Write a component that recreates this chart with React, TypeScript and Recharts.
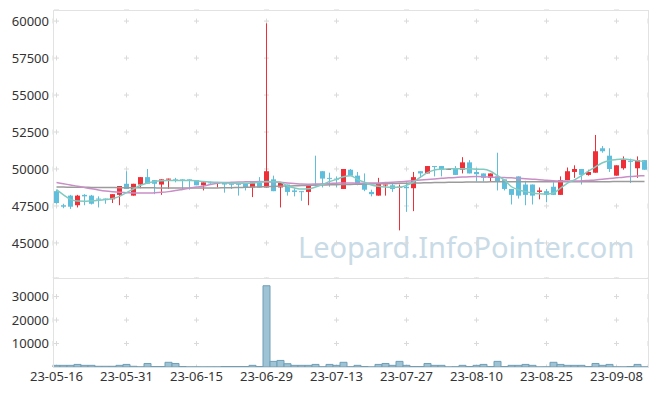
import { ComposedChart, Bar, Line, XAxis, YAxis, CartesianGrid } from "recharts";

const DATES = [
  "23-05-16", "23-05-17", "23-05-18", "23-05-19", "23-05-22", "23-05-23", "23-05-24", "23-05-25", "23-05-26", "23-05-30",
  "23-05-31", "23-06-01", "23-06-02", "23-06-05", "23-06-07", "23-06-08", "23-06-09", "23-06-12", "23-06-13", "23-06-14",
  "23-06-15", "23-06-16", "23-06-19", "23-06-20", "23-06-21", "23-06-22", "23-06-23", "23-06-26", "23-06-27", "23-06-28",
  "23-06-29", "23-06-30", "23-07-03", "23-07-04", "23-07-05", "23-07-06", "23-07-07", "23-07-10", "23-07-11", "23-07-12",
  "23-07-13", "23-07-14", "23-07-17", "23-07-18", "23-07-19", "23-07-20", "23-07-21", "23-07-24", "23-07-25", "23-07-26",
  "23-07-27", "23-07-28", "23-07-31", "23-08-01", "23-08-02", "23-08-03", "23-08-04", "23-08-07", "23-08-08", "23-08-09",
  "23-08-10", "23-08-11", "23-08-14", "23-08-16", "23-08-17", "23-08-18", "23-08-21", "23-08-22", "23-08-23", "23-08-24",
  "23-08-25", "23-08-28", "23-08-29", "23-08-30", "23-08-31", "23-09-01", "23-09-04", "23-09-05", "23-09-06", "23-09-07",
  "23-09-08", "23-09-11", "23-09-12", "23-09-13", "23-09-14",
];

const OPEN = [
  48500, 47550, 48200, 47550, 48250, 48200, 48000, 48000, 47950, 48250,
  49000, 48200, 48950, 49450, 49250, 48950, 49300, 49300, 49300, 49300,
  49250, 48900, 49100, 49050, 49100, 49000, 49000, 49050, 48750, 49050,
  48750, 49300, 48750, 48950, 48550, 48500, 48450, 48950, 49850, 49400,
  49350, 48650, 49950, 49550, 49000, 48450, 48200, 48900, 48900, 48750,
  48800, 48700, 49850, 49700, 50200, 50200, 50000, 50000, 49950, 50450,
  49800, 49700, 49400, 49500, 49300, 48650, 49500, 48950, 48950, 48450,
  48500, 48800, 48250, 49250, 49800, 50000, 49600, 49750, 51400, 50900,
  49550, 50050, 50550, 50050, 50600,
];

const HIGH = [
  48600, 47650, 48250, 48250, 48300, 48250, 48150, 48000, 48300, 48850,
  49850, 49000, 49450, 50000, 49250, 49300, 49350, 49400, 49300, 49300,
  49250, 49100, 49150, 49100, 49100, 49050, 49050, 49050, 49100, 49450,
  59850, 49550, 49050, 48950, 48700, 48500, 48950, 50900, 49850, 49750,
  49500, 50000, 50000, 49800, 49700, 48600, 49400, 48950, 49050, 48950,
  49100, 49800, 49850, 50200, 50200, 50200, 50000, 50200, 50800, 50600,
  50050, 49700, 49700, 51100, 49300, 48650, 49500, 49200, 48950, 48750,
  48650, 49100, 49500, 50100, 50250, 50000, 49950, 52300, 51550, 51400,
  50250, 50850, 50700, 50850, 50600,
];

const LOW = [
  47650, 47350, 47300, 47400, 47550, 47600, 47400, 47650, 47700, 47550,
  48650, 48200, 48700, 49000, 48300, 48250, 48650, 49100, 48600, 48600,
  48900, 48550, 49000, 48750, 48400, 48650, 48200, 48550, 48100, 48750,
  48750, 48500, 47400, 48200, 48150, 47850, 47550, 48850, 48750, 48800,
  48750, 48650, 49550, 48900, 48500, 48150, 48200, 48200, 48450, 45850,
  47100, 47150, 49400, 49700, 49500, 49500, 50000, 49600, 49700, 49700,
  49150, 49150, 49150, 48550, 48550, 47600, 48000, 47550, 47600, 47950,
  47750, 48250, 48250, 49250, 49400, 48950, 49550, 49750, 51100, 49800,
  49550, 49950, 49050, 49400, 49950,
];

const CLOSE = [
  47700, 47450, 47450, 48200, 48150, 47650, 47950, 47950, 48300, 48850,
  48650, 49000, 49450, 49000, 49000, 49300, 49350, 49200, 49250, 49250,
  48900, 49100, 49050, 49100, 48950, 48950, 48950, 48750, 49100, 48750,
  49850, 48500, 49050, 48450, 48450, 48450, 48950, 48900, 49350, 49350,
  49300, 50000, 49550, 49000, 48600, 48300, 49000, 48950, 48650, 48800,
  48700, 49450, 49700, 50200, 50150, 49950, 50000, 49600, 50450, 49700,
  49650, 49400, 49700, 49150, 48650, 48250, 48200, 48250, 48200, 48550,
  48250, 48250, 49250, 49850, 50000, 49600, 49800, 51200, 51200, 50000,
  50250, 50650, 50500, 50600, 49950,
];

const VOLUME = [
  700, 700, 700, 1100, 700, 700, 300, 300, 300, 700,
  1100, 300, 60, 1500, 200, 200, 2000, 1500, 200, 40,
  30, 30, 40, 40, 200, 200, 200, 200, 700, 200,
  34600, 2400, 2800, 1400, 700, 700, 700, 1100, 100, 1100,
  700, 2000, 100, 700, 200, 30, 1100, 1500, 700, 2400,
  700, 200, 200, 1500, 700, 700, 30, 100, 700, 200,
  700, 1100, 200, 2400, 200, 700, 700, 1100, 700, 30,
  40, 2000, 1100, 700, 700, 700, 200, 1500, 700, 1100,
  40, 40, 200, 1100, 40,
];

const MA5 = [
  48600, 48250, 47950, 47830, 47820, 47850, 47880, 47930, 48000, 48150,
  48400, 48650, 48900, 49050, 49150, 49200, 49220, 49230, 49230, 49220,
  49200, 49150, 49120, 49100, 49070, 49040, 49030, 49030, 49050, 49100,
  49150, 49140, 49100, 48850, 48720, 48640, 48660, 48780, 48950, 49150,
  49300, 49480, 49550, 49300, 49100, 48920, 48830, 48780, 48760, 48760,
  48900, 49120, 49450, 49750, 49930, 49990, 50010, 50020, 50020, 50010,
  49990, 49980, 49850, 49550, 49250, 48800, 48600, 48470, 48380, 48330,
  48310, 48380, 48700, 49050, 49270, 49550, 49850, 50150, 50420, 50580,
  50640, 50670, 50620, 50560, 50500,
];

const MA20 = [
  49080, 49000, 48920, 48840, 48750, 48660, 48580, 48510, 48460, 48420,
  48400, 48380, 48370, 48370, 48390, 48420, 48470, 48540, 48620, 48700,
  48780, 48850, 48950, 49030, 49080, 49100, 49120, 49130, 49140, 49150,
  49140, 49120, 49100, 49060, 49020, 48980, 48970, 48980, 49000, 49020,
  49040, 49060, 49050, 49040, 49040, 49050, 49060, 49080, 49100, 49130,
  49170, 49210, 49250, 49290, 49330, 49370, 49400, 49430, 49460, 49480,
  49490, 49480, 49460, 49440, 49420, 49400, 49370, 49340, 49310, 49280,
  49240, 49210, 49190, 49180, 49180, 49200, 49230, 49260, 49300, 49350,
  49400, 49450, 49490, 49520, 49550,
];

const MA60 = [
  48780, 48775, 48770, 48765, 48760, 48755, 48750, 48750, 48745, 48740,
  48740, 48735, 48730, 48730, 48725, 48720, 48720, 48715, 48715, 48710,
  48710, 48710, 48715, 48720, 48730, 48740, 48750, 48760, 48775, 48790,
  48805, 48820, 48835, 48850, 48865, 48880, 48895, 48910, 48920, 48930,
  48940, 48950, 48960, 48970, 48980, 48990, 49000, 49010, 49020, 49030,
  49040, 49050, 49060, 49070, 49080, 49090, 49100, 49105, 49110, 49115,
  49120, 49125, 49130, 49135, 49140, 49140, 49140, 49140, 49140, 49140,
  49140, 49140, 49140, 49140, 49140, 49140, 49140, 49145, 49145, 49145,
  49150, 49150, 49150, 49150, 49150,
];

const PRICE_TICKS = [45000, 47500, 50000, 52500, 55000, 57500, 60000];
const VOLUME_TICKS = [10000, 20000, 30000];

const RED = "#ee2f37";
const BLUE = "#5fbedb";

const rows = DATES.map((date, i) => ({
  date,
  open: OPEN[i],
  high: HIGH[i],
  low: LOW[i],
  close: CLOSE[i],
  vol: VOLUME[i],
  ma5: MA5[i],
  ma20: MA20[i],
  ma60: MA60[i],
}));

const Candle = (props: any) => {
  let { x, y, width, height } = props;
  const { open, close, high, low } = props.payload;
  if (height < 0) {
    y += height;
    height = -height;
  }
  const color = close >= open ? RED : BLUE;
  const cx = Math.floor(x + width / 2) + 0.5;
  const span = high - low;
  const k = span > 0 ? height / span : 0;
  const yOf = (v: number) => y + (high - v) * k;
  const top = yOf(Math.max(open, close));
  const bot = yOf(Math.min(open, close));
  return (
    <g>
      <line x1={cx} x2={cx} y1={y} y2={y + height} stroke={color} strokeWidth={1} />
      <rect x={cx - 2.5} y={top} width={5} height={Math.max(1, bot - top)} fill={color} />
    </g>
  );
};

// grid is drawn as small crosses at the tick intersections
const gridLine = (dash: string, offset: number) => (p: any) => (
  <line
    key={p.key}
    x1={p.x1}
    y1={p.y1}
    x2={p.x2}
    y2={p.y2}
    stroke="#dadada"
    strokeWidth={1}
    strokeDasharray={dash}
    strokeDashoffset={offset}
  />
);

const tickStyle = { fontSize: 13, fill: "#333", fontFamily: "'Noto Sans', sans-serif" };

export default function App() {
  return (
    <div style={{ position: "absolute", left: 0, top: 0, width: 657, height: 396, background: "#fff" }}>
      <svg width={657} height={396} style={{ position: "absolute", left: 0, top: 0 }}>
        <text
          x={298}
          y={258}
          fontSize={29}
          fill="#c9dbe6"
          fontFamily="'Noto Sans', sans-serif"
        >
          Leopard.InfoPointer.com
        </text>
      </svg>
      <div style={{ position: "absolute", left: 0, top: 0 }}>
        <ComposedChart
          width={657}
          height={278}
          data={rows}
          margin={{ top: 10, right: 9, bottom: 0, left: 0 }}
        >
          <CartesianGrid
            horizontal={gridLine("5 65", -1)}
            vertical={gridLine("5 32", -8.5)}
          />
          <XAxis dataKey="date" type="category" hide interval={9} />
          <YAxis
            type="number"
            domain={[42630, 60750]}
            ticks={PRICE_TICKS}
            width={53}
            axisLine={false}
            tickLine={false}
            tickSize={2}
            tickMargin={2}
            tick={tickStyle}
          />
          <Bar dataKey={(d: any) => [d.low, d.high]} shape={<Candle />} isAnimationActive={false} />
          <Line type="monotone" dataKey="ma60" stroke="#9b9b9b" strokeWidth={1.5} dot={false} isAnimationActive={false} />
          <Line type="monotone" dataKey="ma20" stroke="#c98ec6" strokeWidth={1.5} dot={false} isAnimationActive={false} />
          <Line type="monotone" dataKey="ma5" stroke="#80cbc0" strokeWidth={1.5} dot={false} isAnimationActive={false} />
        </ComposedChart>
      </div>
      <div style={{ position: "absolute", left: 0, top: 278 }}>
        <ComposedChart
          width={657}
          height={118}
          data={rows}
          barCategoryGap={0}
          margin={{ top: 0, right: 9, bottom: 0, left: 0 }}
        >
          <CartesianGrid
            horizontal={gridLine("5 65", -1)}
            vertical={gridLine("5 18.48", -16.05)}
          />
          <XAxis
            dataKey="date"
            type="category"
            interval={9}
            height={29}
            axisLine={false}
            tickLine={false}
            tickSize={3}
            tickMargin={2}
            tick={tickStyle}
          />
          <YAxis
            type="number"
            domain={[0, 37900]}
            ticks={VOLUME_TICKS}
            width={53}
            axisLine={false}
            tickLine={false}
            tickSize={2}
            tickMargin={2}
            tick={tickStyle}
          />
          <Bar dataKey="vol" fill="#9dc3d5" stroke="#6f9fb6" strokeWidth={1} isAnimationActive={false} />
        </ComposedChart>
      </div>
      <div
        style={{
          position: "absolute",
          left: 53,
          top: 10,
          width: 596,
          height: 358,
          boxSizing: "border-box",
          border: "1px solid #e2e2e2",
          pointerEvents: "none",
        }}
      />
      <div
        style={{
          position: "absolute",
          left: 53,
          top: 278,
          width: 596,
          height: 1,
          background: "#e2e2e2",
          pointerEvents: "none",
        }}
      />
    </div>
  );
}
